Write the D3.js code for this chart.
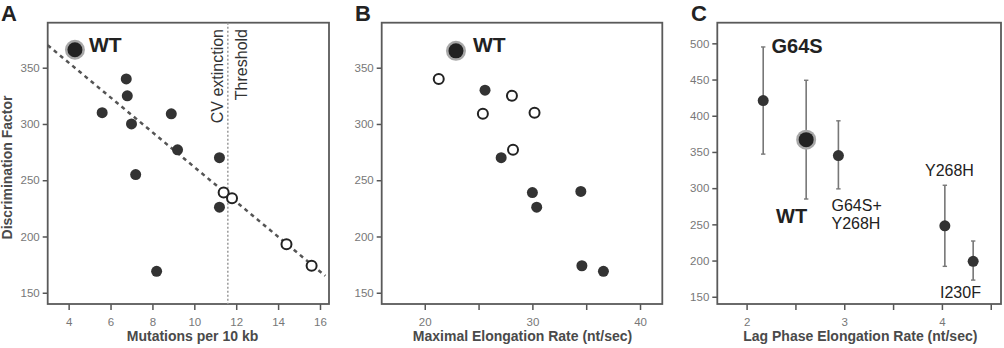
<!DOCTYPE html>
<meta charset="utf-8">
<script src="https://d3js.org/d3.v7.min.js"></script>
<style>
  body { margin: 0; background: #fff; }
  svg { font-family: "Liberation Sans", Arial, Helvetica, sans-serif; }
  .tick text { fill: #777; font-size: 11.5px; }
  .tick line { stroke: #555; stroke-width: 1.5; }
</style>
<div id="chart"></div>
<script>

// ---- panel A: discrimination factor vs mutations per 10 kb
var mutFilledX = [6.75, 6.8, 5.6, 7.0, 8.9, 9.2, 11.2, 7.2, 11.2, 8.2];
var mutFilledY = [340, 325, 310, 300, 309, 277, 270, 255, 226, 169];
var mutOpenX = [11.4, 11.8, 14.4, 15.6];
var mutOpenY = [239, 234, 193, 174];
var wtA = [4.3, 366];
var fitLine = [[3.0, 370], [16.25, 165]];
var cvThreshold = 11.6;

// ---- panel B: discrimination factor vs maximal elongation rate
var rateFilledX = [25.6, 27.1, 30.0, 30.4, 34.5, 34.6, 36.6];
var rateFilledY = [330, 270, 239, 226, 240, 174, 169];
var rateOpenX = [21.3, 28.1, 25.4, 30.2, 28.2];
var rateOpenY = [340, 325, 309, 310, 277];
var wtB = [22.9, 365];

// ---- panel C: lag phase elongation rate with error bars
var lagNames = ["G64S", "WT", "G64S+Y268H", "Y268H", "I230F"];
var lagX = [2.17, 2.61, 2.94, 4.03, 4.32];
var lagY = [421, 367, 345, 248, 199];
var lagLo = [347, 285, 299, 192, 173];
var lagHi = [495, 449, 393, 304, 227];

var ticksA_x = [4, 6, 8, 10, 12, 14, 16];
var ticksAB_y = [150, 200, 250, 300, 350];
var ticksB_x = [20, 25, 30, 35, 40];
var ticksC_x = [2, 2.5, 3, 3.5, 4, 4.5];
var ticksC_y = [150, 200, 250, 300, 350, 400, 450, 500];

var svg = d3.select("#chart").append("svg")
  .attr("width", 1004)
  .attr("height", 348);

var top_ = 22.7, bottom_ = 304;

function panel(opt) {
  var x = d3.scaleLinear().domain(opt.xDomain).range([opt.left, opt.right]);
  var y = d3.scaleLinear().domain(opt.yDomain).range([bottom_, top_]);
  var g = svg.append("g");

  g.append("g")
    .attr("transform", "translate(0," + bottom_ + ")")
    .call(d3.axisBottom(x).tickValues(opt.xTicks).tickSize(6).tickSizeOuter(0)
      .tickFormat(opt.xFmt || d3.format("d")))
    .call(function(a) { a.select(".domain").remove(); })
    .selectAll("text").attr("dy", "1.1em");

  g.append("g")
    .attr("transform", "translate(" + opt.left + ",0)")
    .call(d3.axisLeft(y).tickValues(opt.yTicks).tickSize(5).tickSizeOuter(0))
    .call(function(a) { a.select(".domain").remove(); });

  g.append("rect")
    .attr("x", opt.left).attr("y", top_)
    .attr("width", opt.right - opt.left).attr("height", bottom_ - top_)
    .attr("fill", "none").attr("stroke", "#5a5a5a").attr("stroke-width", 1.8);

  // x title
  g.append("text")
    .attr("x", opt.titleX).attr("y", 341)
    .attr("text-anchor", "middle")
    .attr("font-size", 14).attr("font-weight", "bold").attr("fill", "#4a4a4a")
    .text(opt.xTitle);

  // panel letter
  g.append("text")
    .attr("x", opt.letterX).attr("y", 21)
    .attr("font-size", 22).attr("font-weight", "bold").attr("fill", "#222")
    .text(opt.letter);

  return {g: g, x: x, y: y};
}

function wtDot(p, pt) {
  p.g.append("circle").attr("cx", p.x(pt[0])).attr("cy", p.y(pt[1]))
    .attr("r", 10).attr("fill", "#a8a8a8");
  p.g.append("circle").attr("cx", p.x(pt[0])).attr("cy", p.y(pt[1]))
    .attr("r", 7.5).attr("fill", "#222");
}

function dots(p, xs, ys, open) {
  p.g.selectAll(null)
    .data(xs)
    .enter()
    .append("circle")
      .attr("cx", function(d) { return p.x(d); })
      .attr("cy", function(d, i) { return p.y(ys[i]); })
      .attr("r", open ? 5 : 5.5)
      .attr("fill", open ? "#fff" : "#333")
      .attr("stroke", open ? "#222" : "none")
      .attr("stroke-width", 2);
}

// ---------- A
var pA = panel({
  left: 47.7, right: 329, xDomain: [3, 16.43], yDomain: [140, 390],
  xTicks: ticksA_x, yTicks: ticksAB_y,
  xTitle: "Mutations per 10 kb", titleX: 192.5, letter: "A", letterX: 1
});

pA.g.append("text")
  .attr("transform", "translate(12,167.5) rotate(-90)")
  .attr("text-anchor", "middle")
  .attr("font-size", 14).attr("font-weight", "bold").attr("fill", "#4a4a4a")
  .text("Discrimination Factor");

pA.g.append("line")
  .attr("x1", pA.x(cvThreshold)).attr("x2", pA.x(cvThreshold))
  .attr("y1", top_).attr("y2", bottom_)
  .attr("stroke", "#9a9a9a").attr("stroke-width", 1.5)
  .attr("stroke-dasharray", "2,2");

pA.g.append("line")
  .attr("x1", pA.x(fitLine[0][0])).attr("y1", pA.y(fitLine[0][1]))
  .attr("x2", pA.x(fitLine[1][0])).attr("y2", pA.y(fitLine[1][1]))
  .attr("stroke", "#555").attr("stroke-width", 2.5)
  .attr("stroke-dasharray", "4,4");

pA.g.append("text")
  .attr("transform", "translate(223,29) rotate(-90)")
  .attr("text-anchor", "end")
  .attr("font-size", 16).attr("fill", "#333")
  .text("CV extinction");
pA.g.append("text")
  .attr("transform", "translate(247,29) rotate(-90)")
  .attr("text-anchor", "end")
  .attr("font-size", 16).attr("fill", "#333")
  .text("Threshold");

dots(pA, mutFilledX, mutFilledY, false);
dots(pA, mutOpenX, mutOpenY, true);
wtDot(pA, wtA);
pA.g.append("text")
  .attr("x", pA.x(wtA[0]) + 14).attr("y", 52)
  .attr("font-size", 21).attr("font-weight", "bold").attr("fill", "#222")
  .text("WT");

// ---------- B
var pB = panel({
  left: 381.7, right: 662.3, xDomain: [16, 42.07], yDomain: [140, 390],
  xTicks: ticksB_x, yTicks: ticksAB_y,
  xFmt: function(d) { return d % 10 === 0 ? d : ""; },
  xTitle: "Maximal Elongation Rate (nt/sec)", titleX: 522.5, letter: "B", letterX: 355
});
dots(pB, rateFilledX, rateFilledY, false);
dots(pB, rateOpenX, rateOpenY, true);
wtDot(pB, wtB);
pB.g.append("text")
  .attr("x", pB.x(wtB[0]) + 17).attr("y", 52)
  .attr("font-size", 21).attr("font-weight", "bold").attr("fill", "#222")
  .text("WT");

// ---------- C
var pC = panel({
  left: 717.3, right: 1001, xDomain: [1.7, 4.605], yDomain: [140, 528.5],
  xTicks: ticksC_x, yTicks: ticksC_y,
  xFmt: function(d) { return d % 1 === 0 ? d : ""; },
  xTitle: "Lag Phase Elongation Rate (nt/sec)", titleX: 860.3, letter: "C", letterX: 691
});

var eb = pC.g.selectAll(".eb").data(lagX).enter().append("g").attr("class", "eb");
eb.append("line")
  .attr("x1", function(d) { return pC.x(d); }).attr("x2", function(d) { return pC.x(d); })
  .attr("y1", function(d, i) { return pC.y(lagLo[i]); })
  .attr("y2", function(d, i) { return pC.y(lagHi[i]); })
  .attr("stroke", "#777").attr("stroke-width", 1.6);
[lagLo, lagHi].forEach(function(arr) {
  eb.append("line")
    .attr("x1", function(d) { return pC.x(d) - 2.2; }).attr("x2", function(d) { return pC.x(d) + 2.2; })
    .attr("y1", function(d, i) { return pC.y(arr[i]); })
    .attr("y2", function(d, i) { return pC.y(arr[i]); })
    .attr("stroke", "#777").attr("stroke-width", 1.4);
});

dots(pC, lagX.filter(function(d, i) { return lagNames[i] !== "WT"; }),
  lagY.filter(function(d, i) { return lagNames[i] !== "WT"; }), false);
wtDot(pC, [lagX[1], lagY[1]]);

function lbl(txt, x, y, bold, size) {
  pC.g.append("text").attr("x", x).attr("y", y)
    .attr("font-size", size).attr("font-weight", bold ? "bold" : "normal")
    .attr("fill", "#222").text(txt);
}
lbl("G64S", 771.5, 52.7, true, 20);
lbl("WT", 776, 222.7, true, 20);
lbl("G64S+", 831.5, 211, false, 16);
lbl("Y268H", 831.5, 229.3, false, 16);
lbl("Y268H", 925, 175.7, false, 16);
lbl("I230F", 940, 298.3, false, 16);

</script>
